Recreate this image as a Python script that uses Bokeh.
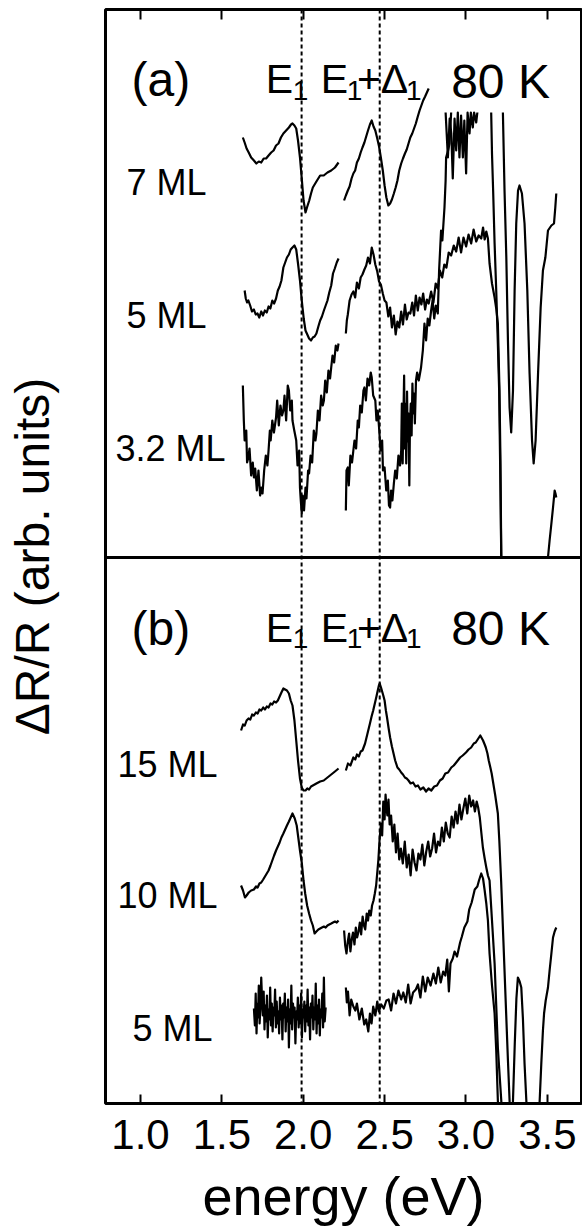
import numpy as np
from bokeh.plotting import figure
from bokeh.models import Range1d, Span, LinearAxis, FixedTicker, PrintfTickFormatter
from bokeh.embed import file_html
from bokeh.resources import INLINE
from bokeh.core.properties import value

# ---------------- data (energy in eV, dR/R in arb. units, curves offset) -------------
energy_ticks = [1.0, 1.5, 2.0, 2.5, 3.0, 3.5]
e1_position = 1.99
e1d1_position = 2.47
panel_divider = 546

# ---- panel (a): 7 ML ----
ml7a_E1 = [1.629,1.640,1.652,1.665,1.680,1.697,1.712,1.727,1.742,1.757,1.772,1.787,1.803,1.818,1.833,1.848,1.863,1.878,1.895,1.912,1.925,1.934,1.946,1.957,1.968,1.980,1.991,2.002,2.014,2.025,2.037,2.048,2.059,2.081,2.104,2.126,2.149,2.172,2.195,2.217]
ml7a_R1 = [966,961,955,951,946,943,940,942,941,945,945,948,951,953,958,960,966,970,973,976,979,980,978,975,963,946,925,903,891,897,903,910,916,922,928,928,931,933,936,941]
ml7a_E2 = [2.251,2.262,2.274,2.285,2.297,2.308,2.319,2.330,2.342,2.353,2.364,2.376,2.387,2.398,2.410,2.421,2.432,2.443,2.455,2.466,2.477,2.489,2.500,2.511,2.523,2.534,2.545,2.557,2.568,2.579,2.590,2.602,2.613,2.625,2.636,2.647,2.658,2.670,2.681,2.692,2.704,2.715,2.726,2.737,2.749,2.760,2.771]
ml7a_R2 = [903,908,913,917,925,930,933,941,945,951,956,961,967,973,979,983,977,973,965,957,946,933,918,906,898,900,904,910,916,923,933,940,945,950,954,960,966,970,975,980,987,993,998,1003,1007,1011,1015]
ml7a_E3 = [2.875,2.889,2.900,2.910,2.919,2.930,2.940,2.950,2.960,2.970,2.981,2.990,3.001,3.010,3.022,3.030,3.042,3.050,3.063,3.070]
ml7a_R3 = [991,946,985,970,925,985,953,991,946,988,946,983,930,991,970,991,976,991,981,991]
ml7a_E4 = [3.227,3.237,3.248,3.258,3.268,3.278,3.289,3.299,3.309,3.320,3.329,3.344,3.360,3.377,3.391,3.406,3.416,3.428,3.443,3.459,3.473,3.488,3.504,3.525,3.541,3.549,3.555]
ml7a_R4 = [991,913,846,763,696,671,713,813,880,913,918,910,880,813,730,663,640,663,730,796,833,846,873,878,880,896,910]

# ---- panel (a): 5 ML ----
ml5a_E1 = [1.640,1.647,1.655,1.663,1.674,1.685,1.697,1.708,1.719,1.730,1.742,1.753,1.764,1.776,1.787,1.798,1.810,1.821,1.833,1.844,1.855,1.866,1.878,1.889,1.900,1.912,1.923,1.934,1.946,1.957,1.968,1.980,1.991,2.003,2.014,2.025,2.036,2.048,2.059,2.070,2.081,2.093,2.104,2.115,2.127,2.138,2.149,2.160,2.172,2.183,2.194,2.206,2.217]
ml5a_R1 = [813,805,801,803,798,792,794,789,790,786,792,788,793,791,797,795,803,800,805,813,817,823,836,841,846,849,854,856,858,854,840,823,803,785,773,769,765,763,766,767,770,777,783,787,793,798,803,811,818,830,835,841,845]
ml5a_E2 = [2.262,2.268,2.274,2.285,2.297,2.308,2.319,2.330,2.342,2.353,
           2.364,2.376,2.387,2.398,2.410,2.421,2.432,2.443,2.455,2.466,
           2.477,2.489,2.500,2.511,2.523,2.534,2.545,2.557,2.568,2.579,
           2.590,2.602,2.613,2.625,2.636,2.647,2.658,2.670,2.681,2.692,
           2.704,2.715,2.726,2.737,2.749,2.760,2.771,2.786,2.800,2.814,
           2.827,2.840,2.854,2.867,2.880,2.894,2.909,2.925,2.940,2.955,
           2.970,2.985,3.001,3.016,3.032,3.047,3.063,3.078,3.094,3.105,
           3.115,3.125,3.135,3.145,3.160,3.176,3.186,3.196,3.206,3.212,
           3.217]
ml5a_R2 = [770,783,789,803,809,812,806,821,815,826,
           829,834,838,846,840,856,849,839,832,822,
           819,810,803,801,787,796,776,788,769,782,
           776,792,779,799,784,791,790,801,788,808,
           793,806,799,810,794,804,800,812,801,820,
           815,833,826,839,836,851,848,858,852,866,
           851,866,857,869,860,874,862,868,865,876,
           864,872,865,840,820,806,795,780,713,643,
           546]

# ---- panel (a): 3.2 ML ----
ml32a_E1 = [1.629,1.635,1.640,1.650,1.655,1.663,1.670,1.680,1.690,1.697,1.705,1.715,1.725,1.735,1.742,1.750,1.760,1.770,1.780,1.787,1.795,1.800,1.810,1.820,1.833,1.840,1.850,1.860,1.870,1.878,1.885,1.895,1.905,1.912,1.920,1.930,1.934,1.945,1.957,1.965,1.975,1.980,1.985,1.991,1.997,2.005,2.014,2.020,2.030,2.036,2.045,2.055,2.065,2.075,2.081,2.090,2.100,2.110,2.120,2.127,2.135,2.145,2.155,2.165,2.172,2.180,2.190,2.200,2.210,2.217]
ml32a_R1 = [718,683,663,673,641,646,655,628,641,626,635,613,633,608,616,610,633,648,638,653,673,663,683,671,686,703,678,698,688,693,708,683,718,713,693,703,683,673,663,638,653,616,603,590,608,593,616,605,633,630,648,641,673,663,670,693,683,708,698,703,723,711,733,725,736,748,741,758,753,760]
ml32a_E2 = [2.262,2.266,2.274,2.280,2.290,2.300,2.308,2.315,2.325,2.335,
            2.342,2.350,2.360,2.370,2.376,2.385,2.395,2.405,2.415,2.421,
            2.430,2.443,2.450,2.458,2.466,2.475,2.485,2.490,2.500,2.510,
            2.520,2.527,2.534,2.540,2.548,2.557,2.565,2.575,2.585,2.595,
            2.602,2.606,2.611,2.616,2.620,2.624,2.628,2.633,2.638,2.642,
            2.647,2.652,2.656,2.661,2.666,2.671,2.676,2.681,2.686,2.693,
            2.700,2.710,2.724,2.735,2.745,2.755,2.765,2.775,2.786,2.795,
            2.805,2.815,2.827,2.835,2.847,2.855,2.868,2.875,2.878,2.890,
            2.899,2.905,2.909]
ml32a_R2 = [593,633,636,618,648,641,653,663,655,683,
            676,698,691,713,716,703,725,718,731,726,
            708,703,683,693,676,653,663,633,636,613,
            623,598,596,613,603,620,633,625,648,638,
            653,700,640,690,728,655,700,640,712,662,
            690,618,680,700,668,720,690,710,680,723,
            731,723,736,753,780,763,785,778,793,803,
            785,798,790,833,873,863,896,923,946,953,
            960,978,991]
ml32a_E3 = [3.155,3.160,3.167,3.176,3.186,3.196,3.204,3.210,3.217]
ml32a_R3 = [991,950,913,860,813,760,713,640,546]
ml32a_E4 = [3.504,3.514,3.525,3.535,3.545,3.550,3.555]
ml32a_R4 = [546,563,580,596,613,610,606]

# ---- panel (b): 15 ML ----
ml15b_E1 = [1.618,1.630,1.641,1.652,1.664,1.675,1.686,1.697,1.709,1.720,1.731,1.742,1.754,1.765,1.776,1.787,1.799,1.810,1.821,1.833,1.844,1.855,1.866,1.878,1.889,1.900,1.912,1.923,1.934,1.946,1.957,1.968,1.980,1.991,2.002,2.014,2.025,2.036,2.048,2.059,2.081,2.104,2.126,2.149,2.172,2.195,2.217]
ml15b_R1 = [373,379,378,383,385,384,389,388,391,390,394,393,396,394,397,396,400,399,402,401,403,407,411,415,414,413,410,403,398,383,363,343,325,316,313,313,315,314,317,318,320,322,323,326,329,332,335]
ml15b_E2 = [2.262,2.275,2.290,2.308,2.320,2.330,2.342,2.353,2.364,2.380,2.395,2.410,2.420,2.430,2.440,2.450,2.458,2.465,2.470,2.478,2.485,2.492,2.500,2.508,2.515,2.525,2.534,2.545,2.555,2.565,2.579,2.590,2.602,2.613,2.625,2.636,2.647,2.660,2.675,2.690,2.705,2.720,2.738,2.755,2.770,2.787,2.805,2.822,2.840,2.857,2.873,2.890,2.910,2.925,2.940,2.964,2.980,3.000,3.016,3.032,3.048,3.060,3.072,3.080,3.088,3.095,3.105,3.115,3.122,3.132,3.140,3.150,3.158,3.165,3.180,3.196,3.205,3.216,3.230,3.247,3.258,3.268,3.278,3.289,3.300,3.310,3.319,3.330,3.340,3.350,3.360,3.371,3.410,3.453,3.463,3.473,3.480,3.490,3.504,3.514,3.525,3.535,3.545,3.555]
ml15b_R2 = [333,340,338,346,344,349,347,352,353,360,370,380,387,393,400,407,413,418,420,416,412,408,403,393,386,375,366,357,350,343,336,334,331,329,326,325,323,320,321,317,318,314,316,312,315,313,317,318,323,325,330,331,336,338,341,346,348,351,354,356,360,361,364,366,368,366,363,359,356,350,343,336,330,323,308,290,263,223,163,90,43,3,-40,3,60,105,126,122,116,85,40,3,-150,3,40,73,90,103,116,133,150,166,172,176]

# ---- panel (b): 10 ML ----
ml10b_E1 = [1.618,1.630,1.642,1.652,1.665,1.680,1.697,1.710,1.720,1.731,1.742,1.754,1.765,1.776,1.787,1.799,1.810,1.821,1.833,1.844,1.855,1.866,1.878,1.889,1.900,1.912,1.923,1.934,1.948,1.960,1.968,1.980,1.991,2.002,2.012,2.024,2.036,2.048,2.059,2.070,2.081,2.093,2.104,2.115,2.127,2.138,2.149,2.160,2.172,2.183,2.195,2.206,2.217]
ml10b_R1 = [218,213,206,208,211,213,214,217,216,220,221,224,227,230,233,238,243,248,253,257,261,266,270,274,278,282,286,290,285,278,268,253,241,223,210,198,190,183,178,170,172,174,175,176,177,176,178,179,180,181,182,181,183]
ml10b_E2 = [2.251,2.258,2.266,2.274,2.282,2.290,2.298,2.306,2.315,2.323,
            2.331,2.340,2.348,2.356,2.365,2.373,2.381,2.390,2.398,2.406,
            2.415,2.423,2.432,2.440,2.448,2.455,2.462,2.470,2.478,2.485,
            2.492,2.500,2.506,2.511,2.517,2.524,2.531,2.540,2.550,2.560,
            2.570,2.580,2.590,2.600,2.612,2.624,2.636,2.648,2.660,2.672,
            2.684,2.696,2.708,2.720,2.732,2.744,2.756,2.768,2.780,2.792,
            2.804,2.816,2.828,2.840,2.852,2.864,2.876,2.888,2.900,2.912,
            2.924,2.936,2.948,2.960,2.972,2.984,2.996,3.008,3.020,3.032,
            3.044,3.055,3.066,3.075,3.085,3.095,3.104,3.115,3.125,3.135,
            3.145,3.160,3.176,3.186,3.196,3.207,3.217,3.230]
ml10b_R2 = [173,158,150,162,170,152,164,171,159,176,
            166,172,181,169,187,178,174,190,183,193,
            188,198,203,210,218,231,244,266,280,268,
            302,284,309,297,288,304,279,288,262,279,
            251,270,244,255,240,262,236,249,228,254,
            241,233,250,244,259,238,252,262,247,255,
            270,251,262,258,276,262,281,270,266,287,
            276,292,280,299,284,295,305,290,308,297,
            303,292,302,296,286,270,256,245,236,228,
            223,183,140,98,56,28,3,-40]

# ---- panel (b): 5 ML ----
ml5b_E1 = [1.697,1.703,1.708,1.713,1.718,1.722,1.727,1.732,1.737,1.742,
           1.747,1.752,1.757,1.762,1.767,1.772,1.777,1.782,1.787,1.792,
           1.797,1.802,1.807,1.812,1.817,1.822,1.827,1.832,1.837,1.842,
           1.847,1.852,1.857,1.862,1.867,1.872,1.877,1.882,1.887,1.892,
           1.897,1.902,1.907,1.912,1.917,1.922,1.927,1.932,1.937,1.942,
           1.947,1.952,1.957,1.962,1.967,1.972,1.977,1.982,1.987,1.992,
           1.997,2.002,2.007,2.012,2.017,2.022,2.027,2.032,2.037,2.042,
           2.047,2.052,2.057,2.062,2.067,2.072,2.077,2.082,2.087,2.092,
           2.097,2.102,2.107,2.112,2.117,2.122,2.127,2.132,2.138]
ml5b_R1 = [95,78,110,70,100,86,118,80,96,126,
           104,88,112,74,98,82,108,66,94,84,
           116,78,100,72,96,88,114,76,102,80,
           92,70,106,84,98,64,100,86,110,72,
           96,82,104,56,94,80,118,74,100,86,
           96,60,92,84,106,76,98,80,110,66,
           94,86,102,72,98,82,114,78,96,64,
           100,86,108,74,96,84,120,70,98,80,
           104,68,94,86,110,76,126,82,96]
ml5b_E2 = [2.262,2.268,2.275,2.285,2.295,2.308,2.320,2.330,2.345,2.360,
           2.375,2.387,2.400,2.410,2.420,2.430,2.443,2.455,2.465,2.480,
           2.495,2.511,2.525,2.540,2.555,2.570,2.585,2.602,2.615,2.630,
           2.645,2.660,2.675,2.692,2.705,2.720,2.735,2.750,2.765,2.783,
           2.800,2.815,2.830,2.845,2.860,2.873,2.885,2.895,2.905,2.919,
           2.930,2.945,2.964,2.975,2.990,3.009,3.020,3.035,3.054,3.070,
           3.080,3.094,3.105,3.115,3.125,3.135,3.145,3.160,3.176,3.186,
           3.196,3.210]
ml5b_R2 = [116,101,112,88,104,97,93,100,84,95,
           79,84,72,90,80,97,88,102,92,99,
           95,103,104,93,110,100,113,104,111,101,
           119,100,111,114,119,106,127,112,126,118,
           130,120,136,121,132,128,144,112,140,145,
           152,147,161,167,176,182,194,201,214,217,
           223,230,225,213,200,183,150,118,90,53,
           3,-40]

curves = {
    "7 ML (a)": ([ml7a_E1, ml7a_E2, ml7a_E3, ml7a_E4], [ml7a_R1, ml7a_R2, ml7a_R3, ml7a_R4]),
    "5 ML (a)": ([ml5a_E1, ml5a_E2], [ml5a_R1, ml5a_R2]),
    "3.2 ML (a)": ([ml32a_E1, ml32a_E2, ml32a_E3, ml32a_E4], [ml32a_R1, ml32a_R2, ml32a_R3, ml32a_R4]),
    "15 ML (b)": ([ml15b_E1, ml15b_E2], [ml15b_R1, ml15b_R2]),
    "10 ML (b)": ([ml10b_E1, ml10b_E2], [ml10b_R1, ml10b_R2]),
    "5 ML (b)": ([ml5b_E1, ml5b_E2], [ml5b_R1, ml5b_R2]),
}
for name, (xs, ys) in curves.items():
    for a, b in zip(xs, ys):
        assert len(a) == len(b), (name, len(a), len(b))

FONT = "Liberation Sans"

p = figure(width=582, height=1232, output_backend="svg", toolbar_location=None,
           x_range=Range1d(0.785, 3.71), y_range=Range1d(0, 1094),
           min_border_left=105, min_border_right=1, min_border_top=9, min_border_bottom=129)
p.grid.visible = False
p.outline_line_color = "black"
p.outline_line_width = 3
p.background_fill_color = "white"
p.border_fill_color = "white"

xa = p.xaxis[0]
xa.ticker = FixedTicker(ticks=energy_ticks)
xa.formatter = PrintfTickFormatter(format="%.1f")
xa.major_tick_in = 9
xa.major_tick_out = 0
xa.major_tick_line_width = 2
xa.minor_tick_line_color = None
xa.axis_line_color = None
xa.major_label_text_font = FONT
xa.major_label_text_font_size = "42px"
xa.major_label_text_color = "black"
xa.major_label_standoff = 16
xa.axis_label = "energy (eV)"
xa.axis_label_text_font = FONT
xa.axis_label_text_font_size = "54px"
xa.axis_label_text_font_style = "normal"
xa.axis_label_text_color = "black"
xa.axis_label_standoff = 14

ta = LinearAxis(ticker=FixedTicker(ticks=energy_ticks), major_tick_in=10, major_tick_out=0,
                major_tick_line_width=2, minor_tick_line_color=None, axis_line_color=None,
                major_label_text_color=None, major_label_text_font_size="1px",
                major_label_standoff=0)
p.add_layout(ta, "above")

ya = p.yaxis[0]
ya.ticker = FixedTicker(ticks=[])
ya.major_tick_line_color = None
ya.minor_tick_line_color = None
ya.axis_line_color = None
ya.major_label_text_color = None
ya.major_label_standoff = 0
ya.axis_label = "ΔR/R (arb. units)"
ya.axis_label_text_font = FONT
ya.axis_label_text_font_size = "48px"
ya.axis_label_text_font_style = "normal"
ya.axis_label_text_color = "black"
ya.axis_label_standoff = 47

for name, (xs, ys) in curves.items():
    p.multi_line(xs=xs, ys=ys, line_color="black", line_width=2.2, line_join="round")

p.add_layout(Span(location=panel_divider, dimension="width", line_color="black", line_width=3))
for loc in (e1_position, e1d1_position):
    p.add_layout(Span(location=loc, dimension="height", line_color="black",
                      line_width=2, line_dash="4 3"))

def txt(x, y, t, size):
    p.text(x=x, y=y, text=t, text_font=value(FONT), text_font_size=value(size),
           text_color="black", text_baseline="alphabetic", text_align="left")

# panel labels
txt([0.945, 0.945], [1024, 475], ["(a)", "(b)"], "48px")
txt([2.909, 2.909], [1022, 475], ["80 K", "80 K"], "48px")
txt([1.770, 2.108, 1.770, 2.108], [1025, 1025, 476, 476], ["E", "E", "E", "E"], "41px")
txt([2.330, 2.330], [1025, 476], ["+Δ", "+Δ"], "41px")
txt([1.936, 2.268, 2.632, 1.936, 2.268, 2.632], [1013, 1013, 1013, 465, 465, 465],
    ["1", "1", "1", "1", "1", "1"], "28px")
# curve labels
txt([0.914, 0.914, 0.846], [921, 788, 655], ["7 ML", "5 ML", "3.2 ML"], "36px")
txt([0.858, 0.858, 0.951], [339, 208, 75], ["15 ML", "10 ML", "5 ML"], "36px")

open("out.html", "w").write(file_html(p, INLINE))
